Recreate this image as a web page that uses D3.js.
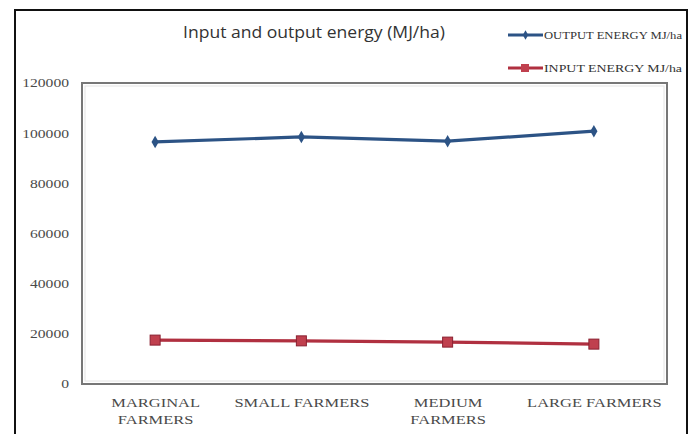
<!DOCTYPE html>
<html><head><meta charset="utf-8">
<script src="https://cdn.jsdelivr.net/npm/d3@7"></script>
<style>body{margin:0;background:#fff}svg{display:block}</style>
</head><body>
<svg id="c" width="695" height="434"></svg>
<script>
const categories = [["MARGINAL","FARMERS"],["SMALL FARMERS"],["MEDIUM","FARMERS"],["LARGE FARMERS"]];
const outputEnergy = [96500, 98500, 96800, 100800];
const inputEnergy = [17500, 17200, 16700, 15900];
const yTicks = [0, 20000, 40000, 60000, 80000, 100000, 120000];
const seriesNames = ["OUTPUT ENERGY MJ/ha", "INPUT ENERGY MJ/ha"];
const titleText = "Input and output energy (MJ/ha)";

const svg = d3.select("#c");
const m = {l:82, t:83, r:667, b:384};
svg.append("rect").attr("x",15).attr("y",10).attr("width",672).attr("height",440)
  .attr("fill","#fff").attr("stroke","#111").attr("stroke-width",2);

const x = d3.scalePoint().domain(d3.range(categories.length)).range([m.l, m.r]).padding(0.5);
const y = d3.scaleLinear().domain([0,120000]).range([m.b, m.t]);

// plot frame
svg.append("rect").attr("x",m.l).attr("y",m.t).attr("width",m.r-m.l).attr("height",m.b-m.t)
  .attr("fill","none").attr("stroke","#777").attr("stroke-width",2);
svg.append("rect").attr("x",m.l+3).attr("y",m.t+3).attr("width",m.r-m.l-6).attr("height",m.b-m.t-6)
  .attr("fill","none").attr("stroke","#e4e4e4").attr("stroke-width",1);

// y axis
const ya = d3.axisLeft(y).tickValues(yTicks).tickSize(0).tickPadding(13).tickFormat(d3.format("d"));
const yg = svg.append("g").attr("transform",`translate(${m.l},0)`).call(ya);
yg.select(".domain").remove();
yg.selectAll("text").attr("font-family","Liberation Serif").attr("font-size",12).attr("fill","#4a4a4a")
  .attr("textLength", function(d){ return String(d).length*7.8; }).attr("lengthAdjust","spacingAndGlyphs");

// x axis
const xa = d3.axisBottom(x).tickSize(0).tickFormat("");
const xg = svg.append("g").attr("transform",`translate(0,${m.b})`).call(xa);
xg.select(".domain").remove();
xg.selectAll(".tick").each(function(d){
  const t = d3.select(this).append("text").attr("text-anchor","middle").attr("transform","scale(1.22,1)")
    .attr("font-family","Liberation Serif").attr("font-size",13.5).attr("fill","#4a4a4a");
  categories[d].forEach((s,i)=>t.append("tspan").attr("x",0).attr("y",23+i*17).text(s));
});

const line = d3.line().x((d,i)=>x(i)).y(d=>y(d));
const cOut = "#2C5385", cIn = "#B03040";
svg.append("path").datum(outputEnergy).attr("d",line).attr("fill","none").attr("stroke",cOut).attr("stroke-width",3.2);
svg.append("path").datum(inputEnergy).attr("d",line).attr("fill","none").attr("stroke",cIn).attr("stroke-width",3.2);
const dia = d3.symbol().type(d3.symbolDiamond).size(45);
svg.selectAll(".od").data(outputEnergy).join("path").attr("d",dia)
  .attr("transform",(d,i)=>`translate(${x(i)},${y(d)})`).attr("fill",cOut);
svg.selectAll(".is").data(inputEnergy).join("rect")
  .attr("x",(d,i)=>x(i)-5).attr("y",d=>y(d)-5).attr("width",10).attr("height",10)
  .attr("fill","#C0404E").attr("stroke","#8A2030").attr("stroke-width",1);

// title
svg.append("text").attr("x",314).attr("y",38).attr("text-anchor","middle")
  .attr("font-family","Open Sans").attr("font-size",15.5).attr("fill","#333")
  .attr("textLength",262).attr("lengthAdjust","spacingAndGlyphs").text(titleText);

// legend
const lg = [{c:cOut,y:35,mk:"d"},{c:cIn,y:68,mk:"s"}];
lg.forEach((o,i)=>{
  svg.append("line").attr("x1",508).attr("x2",543).attr("y1",o.y).attr("y2",o.y).attr("stroke",o.c).attr("stroke-width",3);
  if(o.mk==="s") svg.append("rect").attr("x",521).attr("y",o.y-4).attr("width",8).attr("height",8).attr("fill","#C0404E");
  else svg.append("path").attr("d",d3.symbol().type(d3.symbolDiamond).size(25)).attr("transform",`translate(525.5,${o.y})`).attr("fill",o.c);
  svg.append("text").attr("x",544).attr("y",o.y+4).attr("font-family","Liberation Serif").attr("font-size",10.5)
    .attr("fill","#333").attr("textLength",138).attr("lengthAdjust","spacingAndGlyphs").text(seriesNames[i]);
});
</script>
</body></html>
